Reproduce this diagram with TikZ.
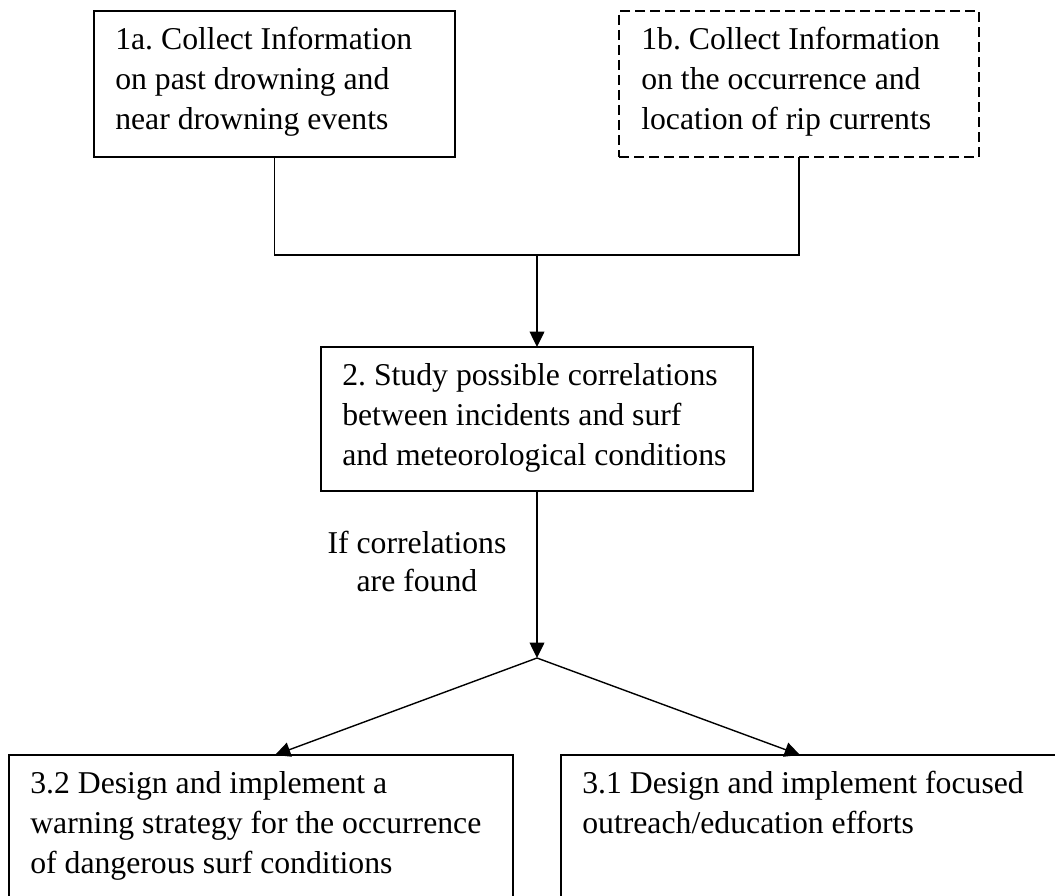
\documentclass[tikz,border=0pt]{standalone}
\usepackage{fontspec}
\setmainfont{Liberation Serif}
\usetikzlibrary{arrows.meta}
\frenchspacing
\begin{document}
\begin{tikzpicture}[x=0.75pt,y=-0.75pt,
  box/.style={draw, line width=1.3pt, rectangle, anchor=north west, inner sep=0pt, outer sep=0pt},
  dbox/.style={box, line width=1.1pt, dash pattern=on 7.5pt off 3.75pt},
  txt/.style={anchor=north west, align=left, inner sep=0pt, font=\fontsize{23.8pt}{30pt}\selectfont\frenchspacing},
  conn/.style={line width=1.05pt},
  arr/.style={conn, -{Triangle[length=11.5pt,width=11pt]}}]
\useasboundingbox (0,0) rectangle (1055,895);
\clip (0,0) rectangle (1055,895);
\node[box, minimum width=361*0.75pt, minimum height=146*0.75pt] (b1a) at (94,11) {};
\node[txt] (t1a) at (115,27) {1a. Collect Information\\on past drowning and\\near drowning events};
\node[dbox, minimum width=360*0.75pt, minimum height=146*0.75pt] (b1b) at (619,11) {};
\node[txt] (t1b) at (641,27) {1b. Collect Information\\on the occurrence and\\location of rip currents};
\node[box, minimum width=432*0.75pt, minimum height=144*0.75pt] (b2) at (321,347) {};
\node[txt] (t2) at (342,363) {2. Study possible correlations\\between incidents and surf\\and meteorological conditions};
\node[txt, align=center, anchor=north, font=\fontsize{23.8pt}{28.5pt}\selectfont] (lbl) at (417,531) {If correlations\\are found};
\node[box, minimum width=504*0.75pt, minimum height=200*0.75pt] (b32) at (9,755) {};
\node[txt] (t32) at (30,771) {3.2 Design and implement a\\warning strategy for the occurrence\\of dangerous surf conditions};
\node[box, minimum width=520*0.75pt, minimum height=200*0.75pt] (b31) at (561,755) {};
\node[txt] (t31) at (582,771) {3.1 Design and implement focused\\outreach/education efforts};
\coordinate (j1) at (537,255);
\coordinate (j2) at (537,658);
\coordinate (a32) at (275,755);
\coordinate (a31) at (800,755);
\draw[conn] (b1a.south) |- (j1) -| (b1b.south);
\draw[arr] (j1) -- (j1 |- b2.north);
\draw[arr] (b2.south -| j2) -- (j2);
\draw[arr] (j2) -- (a32 |- b32.north);
\draw[arr] (j2) -- (a31 |- b31.north);
\end{tikzpicture}
\end{document}
